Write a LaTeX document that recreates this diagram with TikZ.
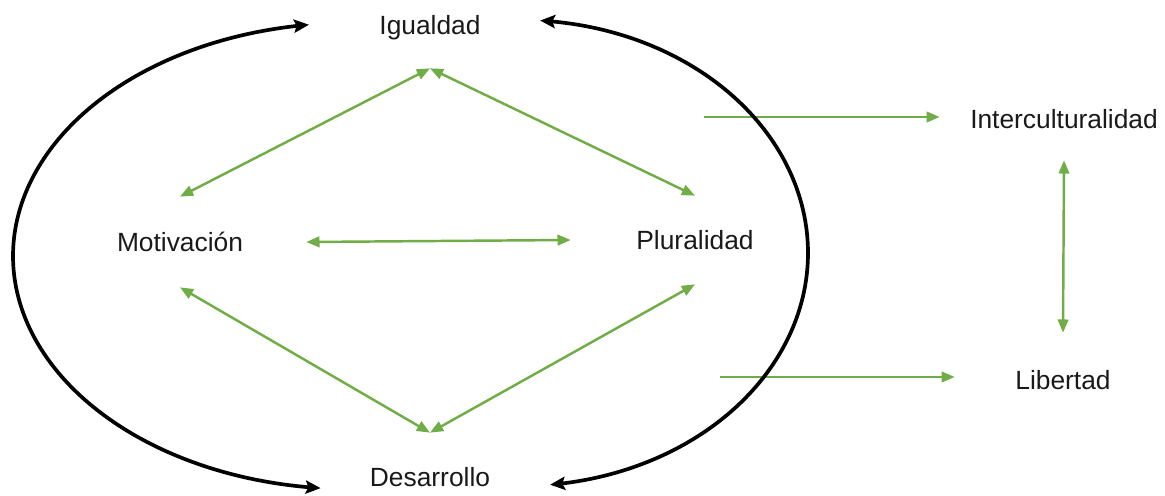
\documentclass[tikz,border=0pt]{standalone}
\usepackage{fontspec}
\setmainfont{Liberation Sans}
\usetikzlibrary{arrows.meta}
\definecolor{grn}{RGB}{112,173,71}
\begin{document}
\begin{tikzpicture}[x=0.02cm,y=-0.02cm,
  lbl/.style={font=\fontsize{15}{18}\selectfont, text=black!90, inner sep=0pt, draw=none},
  garrow/.style={draw=grn, line width=1.4pt, {Triangle[length=7.5pt,width=6pt]}-{Triangle[length=7.5pt,width=6pt]}},
  gsingle/.style={draw=grn, line width=1.4pt, -{Triangle[length=7.5pt,width=6pt]}},
  barc/.style={draw=black, line width=2.1pt, {Stealth[length=8.5pt,width=7.5pt,inset=1.5pt]}-{Stealth[length=8.5pt,width=7.5pt,inset=1.5pt]}}
]
\useasboundingbox (0,0) rectangle (1165,496);
% nodes
\node[lbl, minimum height=1.6cm] (ig) at (430,28) {Igualdad};
\node[lbl, minimum width=5.04cm, minimum height=1.8cm] (mo) at (180,242) {Motivación};
\node[lbl, minimum width=4.96cm, minimum height=1.76cm] (pl) at (695,240) {Pluralidad};
\node[lbl, minimum height=1.76cm] (de) at (430,477) {Desarrollo};
\node[lbl, minimum width=4.96cm, minimum height=1.64cm] (in) at (1064,119) {Interculturalidad};
\node[lbl, minimum width=4.32cm, minimum height=1.88cm] (li) at (1063,380) {Libertad};
\coordinate (s1) at (704,117);
\coordinate (s2) at (720,377);
% green connectors
\draw[garrow] (ig.south) -- (mo.north);
\draw[garrow] (ig.south) -- (pl.north);
\draw[garrow] (mo.east) -- (pl.west);
\draw[garrow] (mo.south) -- (de.north);
\draw[garrow] (pl.south) -- (de.north);
\draw[garrow] (in.south) -- (li.north);
\draw[gsingle] (s1) -- (s1 -| in.west);
\draw[gsingle] (s2) -- (s2 -| li.west);
% black arcs
\draw[barc] plot[domain=263:95, samples=90, smooth] ({350+337*cos(\x)}, {256+233*sin(\x)});
\draw[barc] plot[domain=-86:84, samples=90, smooth] ({520+288*cos(\x)}, {253+233*sin(\x)});
\end{tikzpicture}
\end{document}
